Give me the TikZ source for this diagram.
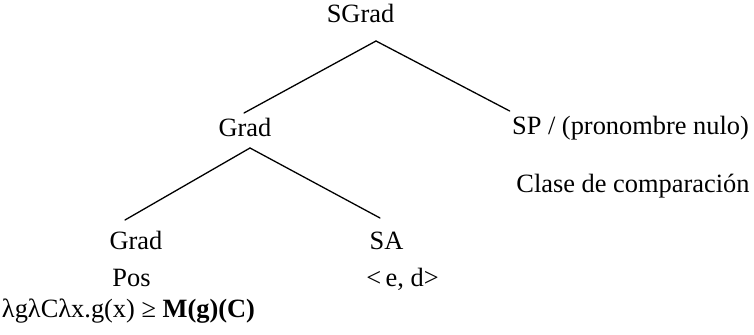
\documentclass[tikz,border=0pt]{standalone}
\usepackage{fontspec}
\setmainfont{Liberation Serif}
\usetikzlibrary{calc}
\begin{document}
\begin{tikzpicture}[x=0.5pt,y=-0.5pt,
  lbl/.style={anchor=base,inner sep=0pt,font=\fontsize{13.2}{16}\selectfont},
  branch/.style={line width=0.65pt,line cap=round}]
\useasboundingbox (0,0) rectangle (754,335);
% tree labels
\node[lbl] (sgrad)   at (360.5,23)  {SGrad};
\node[lbl] (grad)    at (245,137)   {Grad};
\node[lbl] (sp)      at (630.5,135) {SP / (pronombre nulo)};
\node[lbl] (clase)   at (633,193)   {Clase de comparación};
\node[lbl] (gradlow) at (136,250)   {Grad};
\node[lbl] (sa)      at (386.5,250) {SA};
\node[lbl] (pos)     at (131.5,287) {Pos};
\node[lbl] (type)    at (402.5,287) {<\,e, d>};
\node[lbl] (lam)     at (128.5,318) {λgλCλx.g(x) ≥ \textbf{M(g)(C)}};
% branches
\draw[branch] ($(sgrad.base)+(15.5,18)$) -- ($(grad.base)+(-1,-24)$);
\draw[branch] ($(sgrad.base)+(15.5,18)$) -- ($(sp.base west)+(-2,-24)$);
\draw[branch] ($(grad.base)+(5,11)$) -- ($(gradlow.base)+(-11,-30)$);
\draw[branch] ($(grad.base)+(5,11)$) -- ($(sa.base)+(-6.5,-32)$);
\end{tikzpicture}
\end{document}
